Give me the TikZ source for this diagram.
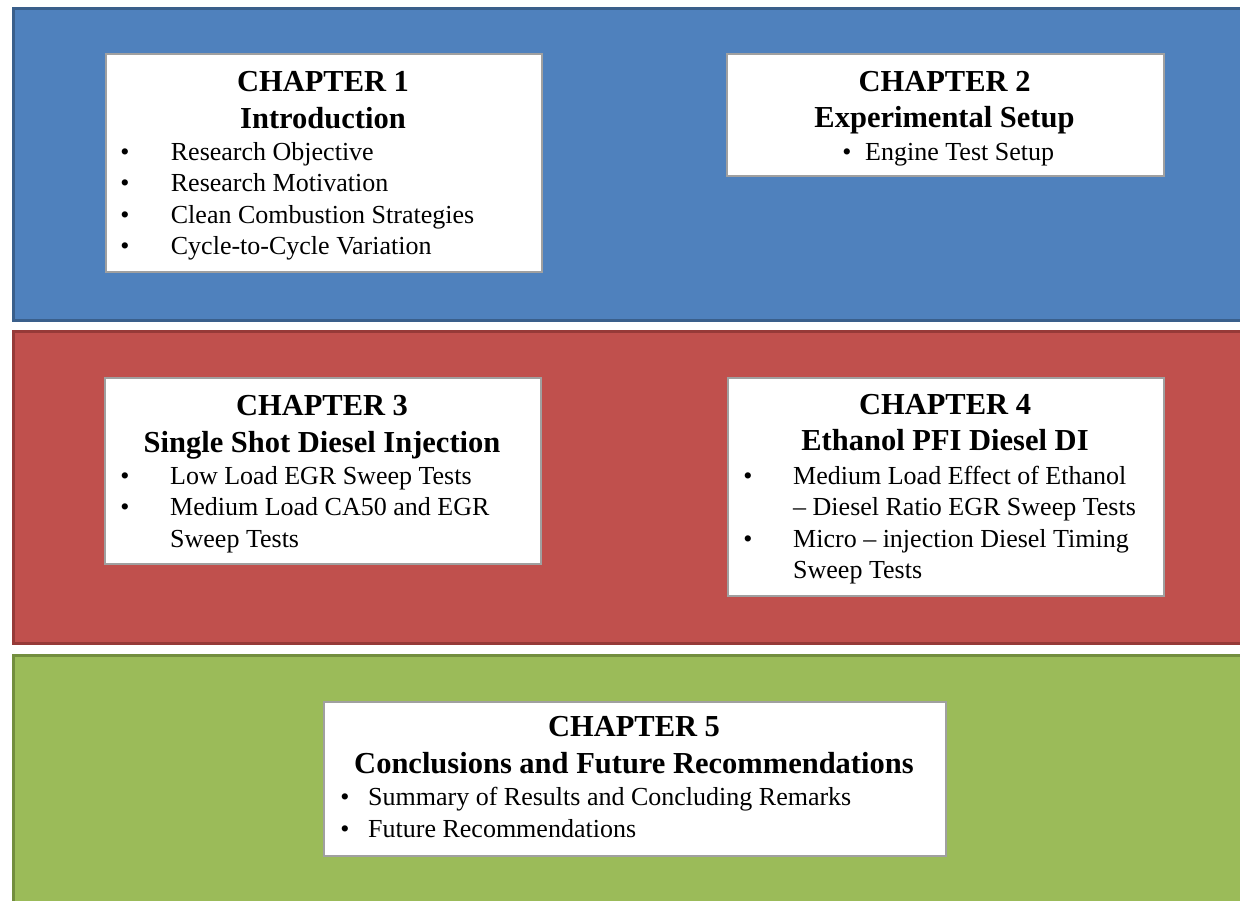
\documentclass[tikz,border=0pt]{standalone}
\usepackage{fontspec}
\setmainfont{Liberation Serif}
\definecolor{bluefill}{HTML}{4F81BD}
\definecolor{blueedge}{HTML}{3A5F8B}
\definecolor{redfill}{HTML}{C0504D}
\definecolor{rededge}{HTML}{963A38}
\definecolor{greenfill}{HTML}{9BBB59}
\definecolor{greenedge}{HTML}{738E3E}
\definecolor{boxgray}{HTML}{A0A0A0}
\tikzset{
  band/.style={line width=3pt, anchor=north west, inner sep=0pt, minimum width=1300pt},
  chbox/.style={draw=boxgray, line width=2pt, fill=white, anchor=north west, inner sep=0pt},
  ttl/.style={anchor=base, inner sep=0pt, font=\bfseries\fontsize{30.5}{36}\selectfont},
  itm/.style={anchor=base west, inner sep=0pt, font=\fontsize{26}{31}\selectfont},
  bul/.style={anchor=base, inner sep=0pt, font=\fontsize{26}{31}\selectfont},
}
\begin{document}
\begin{tikzpicture}[x=1pt,y=-1pt]
\useasboundingbox (0,0) rectangle (1240,900);
\clip (0,0) rectangle (1240,900);
\fill[white] (0,0) rectangle (1240,900);
% bands
\node[band, draw=blueedge, fill=bluefill, minimum height=312pt] (blueband) at (11.5,6.5) {};
\node[band, draw=rededge, fill=redfill, minimum height=312pt] (redband) at (11.5,329.5) {};
\node[band, draw=greenedge, fill=greenfill, minimum height=300pt] (greenband) at (11.5,653.5) {};
% chapter 1
\node[chbox, minimum width=436pt, minimum height=218pt] (c1) at (105,53) {};
\node[ttl] (c1t1) at (323,91.7) {CHAPTER 1};
\node[ttl] (c1t2) at (323,128.3) {Introduction};
\node[bul] (c1b1) at (125,160.7) {•};
\node[itm] (c1i1) at (170.7,160.7) {Research Objective};
\node[bul] (c1b2) at (125,191.7) {•};
\node[itm] (c1i2) at (170.7,191.7) {Research Motivation};
\node[bul] (c1b3) at (125,223.3) {•};
\node[itm] (c1i3) at (170.7,223.3) {Clean Combustion Strategies};
\node[bul] (c1b4) at (125,254.3) {•};
\node[itm] (c1i4) at (170.7,254.3) {Cycle-to-Cycle Variation};
% chapter 2
\node[chbox, minimum width=437pt, minimum height=122pt] (c2) at (726,53) {};
\node[ttl] (c2t1) at (944.5,91.7) {CHAPTER 2};
\node[ttl] (c2t2) at (944.5,127.7) {Experimental Setup};
\node[bul] (c2b1) at (847,160) {•};
\node[itm] (c2i1) at (865,160) {Engine Test Setup};
% chapter 3
\node[chbox, minimum width=436pt, minimum height=186pt] (c3) at (104,377) {};
\node[ttl] (c3t1) at (322,415) {CHAPTER 3};
\node[ttl] (c3t2) at (322,452) {Single Shot Diesel Injection};
\node[bul] (c3b1) at (125,484) {•};
\node[itm] (c3i1) at (170,484) {Low Load EGR Sweep Tests};
\node[bul] (c3b2) at (125,515.7) {•};
\node[itm] (c3i2) at (170,515.7) {Medium Load CA50 and EGR};
\node[itm] (c3i3) at (170,547.7) {Sweep Tests};
% chapter 4
\node[chbox, minimum width=436pt, minimum height=218pt] (c4) at (727,377) {};
\node[ttl] (c4t1) at (945,414) {CHAPTER 4};
\node[ttl] (c4t2) at (945,450.7) {Ethanol PFI Diesel DI};
\node[bul] (c4b1) at (748,484) {•};
\node[itm] (c4i1) at (793,484) {Medium Load Effect of Ethanol};
\node[itm] (c4i2) at (793,515.7) {– Diesel Ratio EGR Sweep Tests};
\node[bul] (c4b2) at (748,547.3) {•};
\node[itm] (c4i3) at (793,547.3) {Micro – injection Diesel Timing};
\node[itm] (c4i4) at (793,578.7) {Sweep Tests};
% chapter 5
\node[chbox, minimum width=622pt, minimum height=154pt] (c5) at (323,701) {};
\node[ttl] (c5t1) at (634,736.7) {CHAPTER 5};
\node[ttl] (c5t2) at (634,773) {Conclusions and Future Recommendations};
\node[bul] (c5b1) at (345,805) {•};
\node[itm] (c5i1) at (368,805) {Summary of Results and Concluding Remarks};
\node[bul] (c5b2) at (345,837.7) {•};
\node[itm] (c5i2) at (368,837.7) {Future Recommendations};
\end{tikzpicture}
\end{document}
